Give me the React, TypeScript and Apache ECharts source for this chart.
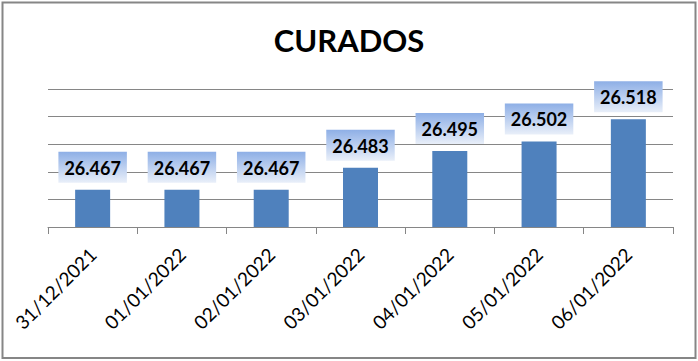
import React, { useEffect, useRef } from "react";
import * as echarts from "echarts";

const categories = ["31/12/2021", "01/01/2022", "02/01/2022", "03/01/2022", "04/01/2022", "05/01/2022", "06/01/2022"];
const values = [26467, 26467, 26467, 26483, 26495, 26502, 26518];
const titleText = "CURADOS";

const fmt = (v: number) => {
  const s = String(Math.round(v));
  return s.replace(/\B(?=(\d{3})+(?!\d))/g, ".");
};

export default function App() {
  const ref = useRef<HTMLDivElement>(null);
  useEffect(() => {
    if (!ref.current) return;
    const chart = echarts.init(ref.current, null, { renderer: "svg" });
    chart.setOption({
      animation: false,
      backgroundColor: "#ffffff",
      title: {
        text: titleText,
        left: "center",
        top: 19,
        textStyle: { fontFamily: "Lato", fontWeight: "bold", fontSize: 31, color: "#000000" },
      },
      graphic: [
        {
          type: "rect",
          shape: { x: 2.5, y: 2.5, width: 693, height: 355.5 },
          style: { fill: "none", stroke: "#868686", lineWidth: 2 },
          z: 100,
        },
      ],
      grid: { left: 48, right: 25, top: 89, bottom: 134, containLabel: false },
      xAxis: {
        type: "category",
        data: categories,
        boundaryGap: true,
        axisLine: { show: true, lineStyle: { color: "#868686", width: 1 } },
        axisTick: { show: true, length: 7, alignWithLabel: false, lineStyle: { color: "#868686" } },
        axisLabel: {
          rotate: 45,
          margin: 24,
          interval: 0,
          fontFamily: "Lato",
          fontSize: 19,
          color: "#000000",
        },
      },
      yAxis: {
        type: "value",
        min: 26440,
        max: 26540,
        interval: 20,
        axisLine: { show: false },
        axisTick: { show: false },
        axisLabel: { show: false },
        splitLine: { show: true, lineStyle: { color: "#868686", width: 1 } },
      },
      series: [
        {
          type: "bar",
          data: values,
          barWidth: 35,
          itemStyle: { color: "#4F81BD" },
          label: {
            show: true,
            position: "top",
            distance: 7,
            formatter: (p: any) => fmt(p.value),
            fontFamily: "Lato",
            fontWeight: "bold",
            fontSize: 18,
            lineHeight: 18,
            color: "#000000",
            padding: [7, 6, 6, 6],
            backgroundColor: new echarts.graphic.LinearGradient(0, 0, 0, 1, [
              { offset: 0, color: "#8EAFE6" },
              { offset: 1, color: "#E9EFF9" },
            ]),
          },
        },
      ],
    });
    return () => chart.dispose();
  }, []);
  return (
    <div
      ref={ref}
      style={{ position: "fixed", left: 0, top: 0, width: 698, height: 361, background: "#fff" }}
    />
  );
}
